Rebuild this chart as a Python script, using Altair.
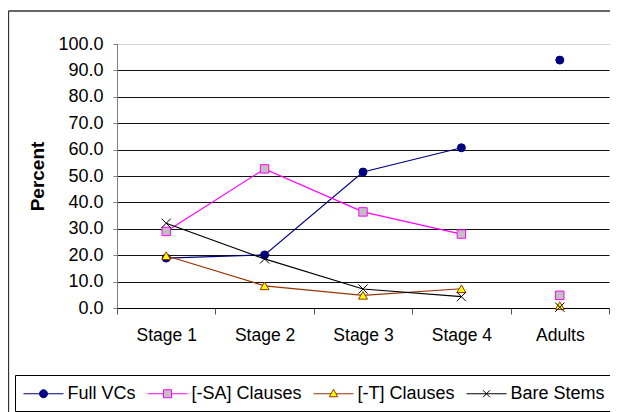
import altair as alt
import pandas as pd

stages = ["Stage 1", "Stage 2", "Stage 3", "Stage 4", "Adults"]
series_names = ["Full VCs", "[-SA] Clauses", "[-T] Clauses", "Bare Stems"]
full_vcs = [18.9, 20.1, 51.5, 60.7, 93.9]
sa_clauses = [29.0, 52.7, 36.4, 28.0, 4.8]
t_clauses = [19.8, 8.4, 4.8, 7.3, 0.9]
bare_stems = [32.1, 18.6, 7.2, 4.3, 0.3]
y_ticks = [0, 10, 20, 30, 40, 50, 60, 70, 80, 90, 100]

line_colors = ["#000080", "#FF00FF", "#993300", "#000000"]
fill_colors = ["#000080", "#C0C0C0", "#FFFF00", "#000000"]
x_path = "M-1,-1L1,1M-1,1L1,-1"
marker_shapes = ["circle", "square", "triangle-up", x_path]
marker_sizes = [64, 85, 100, 64]
legend_paths = [
    "M-1,0H0.6M1.4,0H3M1.4,0A0.4,0.4,0,1,1,0.6,0A0.4,0.4,0,1,1,1.4,0Z",
    "M-1,0H0.6M1.4,0H3M0.6,-0.4H1.4V0.4H0.6Z",
    "M-1,0H0.75M1.25,0H3M1,-0.45L1.42,0.3H0.58Z",
    "M-1,0H3M0.65,-0.35L1.35,0.35M0.65,0.35L1.35,-0.35",
]

rows = []
for name, vals in zip(series_names, [full_vcs, sa_clauses, t_clauses, bare_stems]):
    for st, v in zip(stages, vals):
        rows.append({"Stage": st, "Series": name, "Value": v})
df = pd.DataFrame(rows)

FONT = "Liberation Sans"

x_enc = alt.X(
    "Stage:N",
    sort=stages,
    bandPosition=0.5,
    scale=alt.Scale(type="band", domain=stages, paddingInner=0, paddingOuter=0),
    axis=alt.Axis(
        title=None, tickBand="extent", tickSize=6, tickColor="#555555",
        domainColor="#000000", labelPadding=12, labelFont=FONT,
        labelFontSize=17.5, labelColor="#000000", grid=False, labelAngle=0,
    ),
)
y_enc = alt.Y(
    "Value:Q",
    scale=alt.Scale(domain=[0, 100], nice=False),
    axis=alt.Axis(
        title="Percent", values=y_ticks, format=".1f", tickSize=4,
        tickColor="#808080", domainColor="#808080", labelPadding=10,
        labelFont=FONT, labelFontSize=18, labelColor="#000000",
        grid=True,
        gridColor={"condition": {"test": "datum.value === 100", "value": "#d0d0d0"}, "value": "#111111"},
        gridWidth=1,
        titleFont=FONT, titleFontSize=19, titleFontWeight="bold",
        titleColor="#000000", titleAngle=270, titleX=-80, titleY=132,
        titleAlign="center", titleBaseline="middle",
    ),
)

base = alt.Chart(df)
one_row = alt.Data(values=[{"a": 1}])

frame_top = alt.Chart(one_row).mark_rule(stroke="#333333", strokeWidth=1.3).encode(
    x=alt.value(-108.5), x2=alt.value(700), y=alt.value(-33)
)
frame_left = alt.Chart(one_row).mark_rule(stroke="#333333", strokeWidth=1.3).encode(
    x=alt.value(-108.5), y=alt.value(-33), y2=alt.value(500)
)

lines = base.transform_filter("datum.Stage !== 'Adults'").mark_line(strokeWidth=1.2).encode(
    x=x_enc,
    y=y_enc,
    color=alt.Color("Series:N", scale=alt.Scale(domain=series_names, range=line_colors), legend=None),
)

points = base.mark_point(filled=True, strokeWidth=1, opacity=1).encode(
    x=x_enc,
    y=y_enc,
    shape=alt.Shape("Series:N", scale=alt.Scale(domain=series_names, range=marker_shapes), legend=None),
    fill=alt.Fill("Series:N", scale=alt.Scale(domain=series_names, range=fill_colors), legend=None),
    stroke=alt.Stroke("Series:N", scale=alt.Scale(domain=series_names, range=line_colors), legend=None),
    size=alt.Size("Series:N", scale=alt.Scale(domain=series_names, range=marker_sizes), legend=None),
)

legend_layer = base.transform_filter("false").mark_point(filled=True, strokeWidth=1, size=400, opacity=1).encode(
    shape=alt.Shape(
        "Series:N",
        scale=alt.Scale(domain=series_names, range=legend_paths),
        legend=alt.Legend(
            title=None, orient="none", legendX=-102, legendY=331,
            direction="horizontal", columns=4, strokeColor="#000000",
            fillColor="#ffffff", padding=8, labelFont=FONT, labelFontSize=18,
            labelColor="#000000", labelOffset=23.5, columnPadding=9,
            symbolSize=400, symbolStrokeWidth=1, labelLimit=0,
        ),
    ),
    fill=alt.Fill("Series:N", scale=alt.Scale(domain=series_names, range=fill_colors)),
    stroke=alt.Stroke("Series:N", scale=alt.Scale(domain=series_names, range=line_colors)),
)

chart = alt.layer(frame_top, frame_left, lines, points, legend_layer).resolve_scale(
    shape="independent", fill="independent", stroke="independent",
    color="independent", size="independent",
).properties(
    width=492, height=264,
    padding={"left": 109, "top": 36, "right": 1, "bottom": 104},
    autosize="none", background="#ffffff",
).configure_view(stroke=None)

chart.save("out.html", embed_options={"renderer": "svg", "actions": False})
